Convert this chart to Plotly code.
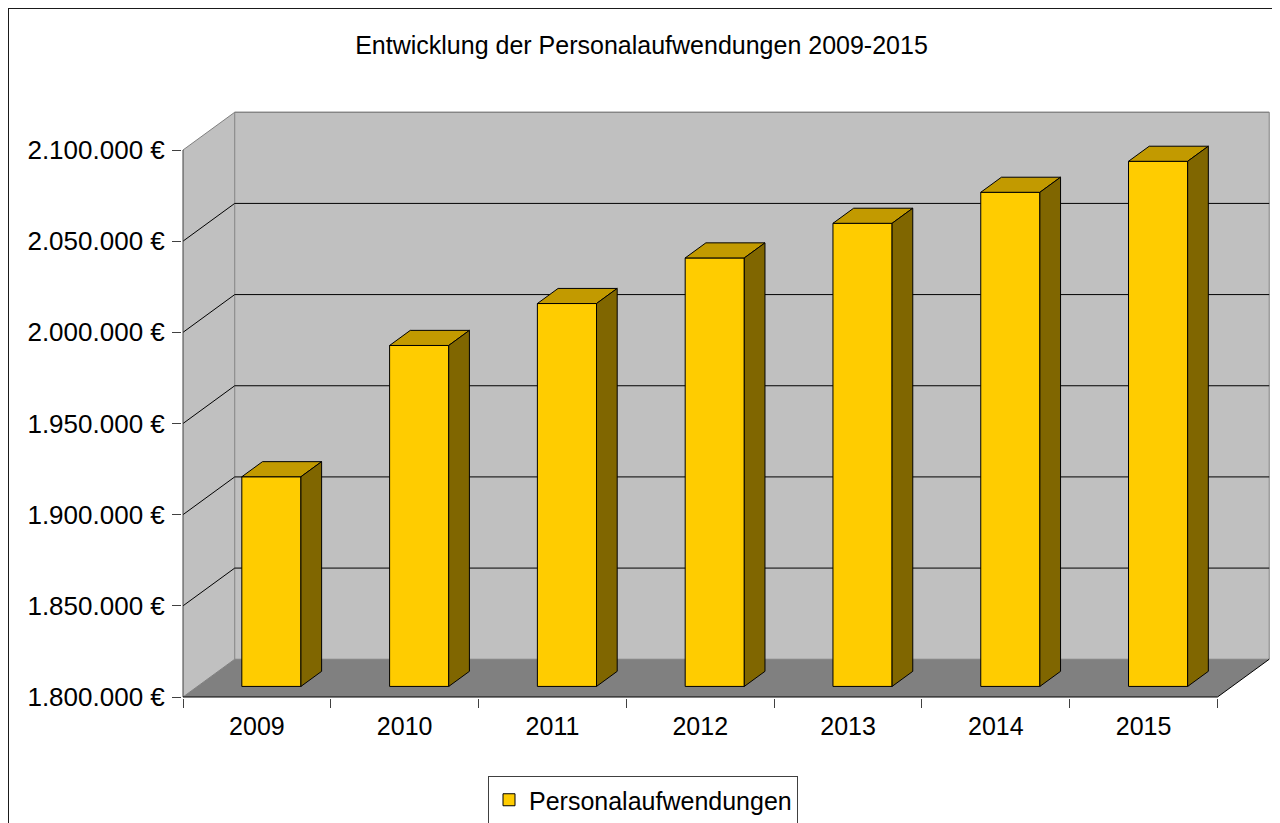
import plotly.graph_objects as go

# data
years = ["2009", "2010", "2011", "2012", "2013", "2014", "2015"]
personal = [1915000, 1987000, 2010000, 2035000, 2054000, 2071000, 2088000]
y_ticks = [1800000, 1850000, 1900000, 1950000, 2000000, 2050000, 2100000]
y_labels = [f"{v:,}".replace(",", ".") + " €" for v in y_ticks]

# page has an 8px body margin, so the figure is a bit smaller than the window
W, H = 1264, 815
ML, MR, MT, MB = 174, 2, 103, 125

# fake-3D box, in axis units
Y0, Y1 = y_ticks[0], y_ticks[-1]
X0, X1 = -0.5, len(years) - 0.5
DX, DY = 0.35, 20700
F0, F1 = 0.28, 0.68   # bar front / back depth fraction
HW = 0.2

# pixel anchor of the front-bottom-left corner and scales
OX, OY = 175, 689
SX = (1209.5 - OX) / (X1 - X0)
SY = 547 / (Y1 - Y0)
PW, PH = W - ML - MR, H - MT - MB
x_range = [X0 - (OX - ML) / SX, X0 + (PW - (OX - ML)) / SX]
y_range = [Y0 - (H - MB - OY) / SY, Y0 + (OY - MT) / SY]

WALL = "#C0C0C0"
FLOOR = "#808080"
EDGE = "#808080"


def path(points, closed=True):
    s = "M " + " L ".join(f"{x},{y}" for x, y in points)
    return s + (" Z" if closed else "")


shapes = []
# left wall, back wall, floor
shapes.append(dict(type="path", path=path([(X0, Y0), (X0, Y1), (X0 + DX, Y1 + DY), (X0 + DX, Y0 + DY)]),
                   fillcolor=WALL, line=dict(width=0), layer="below"))
shapes.append(dict(type="rect", x0=X0 + DX, x1=X1 + DX, y0=Y0 + DY, y1=Y1 + DY,
                   fillcolor=WALL, line=dict(color=EDGE, width=1), layer="below"))
shapes.append(dict(type="path", path=path([(X0, Y0), (X1, Y0), (X1 + DX, Y0 + DY), (X0 + DX, Y0 + DY)]),
                   fillcolor=FLOOR, line=dict(width=0), layer="below"))
# gridlines on side + back wall
for t in y_ticks[1:-1]:
    shapes.append(dict(type="path", path=path([(X0, t), (X0 + DX, t + DY), (X1 + DX, t + DY)], closed=False),
                       line=dict(color="black", width=1), layer="below"))
# edges
shapes.append(dict(type="path", path=path([(X0, Y1), (X0 + DX, Y1 + DY), (X1 + DX, Y1 + DY)], closed=False),
                   line=dict(color=EDGE, width=1), layer="below"))
shapes.append(dict(type="line", x0=X0, y0=Y0, x1=X0 + DX, y1=Y0 + DY, line=dict(color=EDGE, width=1), layer="below"))
shapes.append(dict(type="line", x0=X1, y0=Y0, x1=X1 + DX, y1=Y0 + DY, line=dict(color="black", width=1), layer="below"))
shapes.append(dict(type="line", x0=X0, y0=Y0, x1=X0, y1=Y1, line=dict(color="#404040", width=1), layer="below"))
shapes.append(dict(type="line", x0=X0, y0=Y0, x1=X1, y1=Y0, line=dict(color="black", width=1), layer="below"))
# outer chart border, only left and top edges are inside the crop
shapes.append(dict(type="line", xref="paper", yref="paper", x0=-ML / PW, x1=-ML / PW,
                   y0=-MB / PH, y1=(H - MB) / PH, line=dict(color="#1a1a1a", width=2)))
shapes.append(dict(type="line", xref="paper", yref="paper", x0=-ML / PW, x1=(W - ML) / PW,
                   y0=(H - MB) / PH, y1=(H - MB) / PH, line=dict(color="#1a1a1a", width=2)))

fig = go.Figure()

# front faces
fig.add_trace(go.Bar(
    x=[i + F0 * DX for i in range(len(years))],
    y=[v - Y0 for v in personal],
    base=Y0 + F0 * DY,
    width=2 * HW,
    name="Personalaufwendungen",
    marker=dict(color="#FFCC00", line=dict(color="black", width=1)),
    hoverinfo="skip",
))

# top and side faces
ddx, ddy = (F1 - F0) * DX, (F1 - F0) * DY
top_x, top_y, side_x, side_y = [], [], [], []
for i, v in enumerate(personal):
    xl = i - HW + F0 * DX
    xr = i + HW + F0 * DX
    yt = v + F0 * DY
    yb = Y0 + F0 * DY
    top_x += [xl, xr, xr + ddx, xl + ddx, xl, None]
    top_y += [yt, yt, yt + ddy, yt + ddy, yt, None]
    side_x += [xr, xr, xr + ddx, xr + ddx, xr, None]
    side_y += [yb, yt, yt + ddy, yb + ddy, yb, None]

fig.add_trace(go.Scatter(x=top_x, y=top_y, mode="lines", fill="toself", fillcolor="#C29A00",
                         line=dict(color="black", width=1), showlegend=False, hoverinfo="skip"))
fig.add_trace(go.Scatter(x=side_x, y=side_y, mode="lines", fill="toself", fillcolor="#806600",
                         line=dict(color="black", width=1), showlegend=False, hoverinfo="skip"))

fig.update_layout(
    width=W, height=H,
    margin=dict(l=ML, r=MR, t=MT, b=MB, autoexpand=False),
    paper_bgcolor="white", plot_bgcolor="white",
    font=dict(family="Liberation Sans, Arial, sans-serif", size=25, color="black"),
    title=dict(text="Entwicklung der Personalaufwendungen 2009-2015", x=633.5 / W, xanchor="center",
               y=1 - 37 / H, yanchor="middle", font=dict(size=25)),
    shapes=shapes,
    showlegend=True,
    legend=dict(orientation="h", x=(635 - ML) / PW, xanchor="center", y=(H - MB - 768) / PH, yanchor="top",
                bordercolor="#404040", borderwidth=1, bgcolor="white", font=dict(size=25)),
    xaxis=dict(range=x_range, tickvals=list(range(len(years))), ticktext=years,
               ticks="outside", ticklen=6, tickcolor="rgba(0,0,0,0)",
               showgrid=False, zeroline=False, showline=False,
               minor=dict(tickvals=[i - 0.5 for i in range(len(years) + 1)], ticks="outside",
                          ticklen=9, tickcolor="#404040", showgrid=False)),
    yaxis=dict(range=y_range, tickvals=y_ticks, ticktext=y_labels, tickfont=dict(size=26),
               ticks="outside", ticklen=9, tickcolor="#404040", ticklabelstandoff=2,
               showgrid=False, zeroline=False, showline=False),
)

fig.write_html("out.html")
